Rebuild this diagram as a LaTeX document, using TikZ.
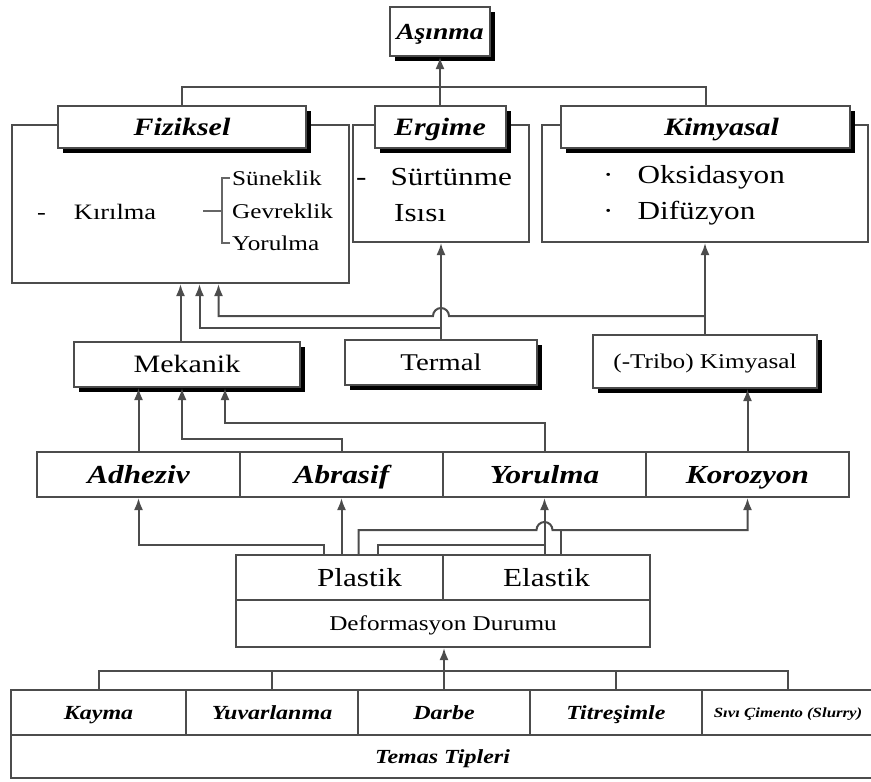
\documentclass[tikz,border=0pt]{standalone}
\usepackage{fontspec}
\setmainfont{Liberation Serif}[FakeStretch=1.2]
\usetikzlibrary{arrows.meta, shadows, calc}
\newcommand{\txtsize}[1]{\fontsize{#1}{#1}\selectfont}

\begin{document}
\begin{tikzpicture}[x=1pt, y=-1pt]

\tikzset{box/.style = {shape=rectangle, draw=black!70, line width=2pt, fill=white, inner sep=0pt}}
\tikzset{hdr/.style = {box, drop shadow={shadow xshift=5pt, shadow yshift=-5pt, fill=black, opacity=1}}}
\tikzset{line/.style = {draw=black!70, line width=2pt}}
\tikzset{edge/.style = {line, -{Latex[length=12pt,width=9pt]}}}
\tikzset{brk/.style = {draw=black!60, line width=1.2pt}}
\tikzset{txt/.style = {anchor=west, inner sep=0pt}}
\tikzset{lbl/.style = {font=\txtsize{#1}, text height=0.66*#1pt, text depth=0pt}}
\tikzset{bi/.style = {lbl=#1, font=\txtsize{#1}\bfseries\itshape}}

\useasboundingbox (0,0) rectangle (871,782);

%outer boxes
\node[box, minimum width=337pt, minimum height=158pt] (fizbox) at (180.5,204) {};
\node[box, minimum width=176pt, minimum height=117pt] (ergbox) at (441,183.5) {};
\node[box, minimum width=326pt, minimum height=117pt] (kimbox) at (705,183.5) {};

%headers
\node[hdr, bi=23, minimum width=100pt, minimum height=49pt] (asinma) at (440,31.5) {Aşınma};
\node[hdr, bi=25, minimum width=248pt, minimum height=42pt] (fizik) at (182,127) {Fiziksel};
\node[hdr, bi=25, minimum width=131pt, minimum height=42pt] (ergime) at (440,127) {Ergime};
\node[hdr, bi=25, minimum width=289pt, minimum height=42pt] (kimya) at (705.5,127) {\hspace{32pt}Kimyasal};

%contents
\node[txt, font=\txtsize{22}] (kirilma) at (37,212) {-\hspace{28pt}Kırılma};
\node[txt, font=\txtsize{21}] (sunek) at (232,178) {Süneklik};
\node[txt, font=\txtsize{21}] (gevrek) at (232,211) {Gevreklik};
\node[txt, font=\txtsize{21}] (yorul) at (232,243) {Yorulma};
\node[txt, font=\txtsize{26}] (surt) at (356,177) {-\hspace{24pt}Sürtünme};
\node[txt, font=\txtsize{26}] (isi) at (394,213) {Isısı};
\node[txt, font=\txtsize{26}] (oksi) at (603,177) {·\hspace{24pt}Oksidasyon};
\node[txt, font=\txtsize{26}] (difu) at (603,213) {·\hspace{24pt}Difüzyon};
\draw[brk] ([xshift=-2pt]sunek.west) -- ++(-8,0) |- ([xshift=-2pt]yorul.west);
\draw[brk] ([xshift=-10pt]gevrek.west) -- ++(-19,0);

%middle
\node[hdr, lbl=25, minimum width=226pt, minimum height=45pt] (mekanik) at (187,364.5) {Mekanik};
\node[hdr, lbl=24, minimum width=192pt, minimum height=45pt] (termal) at (441,362.5) {Termal};
\node[hdr, lbl=21, minimum width=224pt, minimum height=53pt] (tribo) at (705,361.5) {(-Tribo) Kimyasal};

%wear types
\node[box, bi=26, minimum width=203pt, minimum height=45pt] (adheziv) at (138.5,474.5) {Adheziv};
\node[box, bi=26, minimum width=203pt, minimum height=45pt] (abrasif) at (341.5,474.5) {Abrasif};
\node[box, bi=26, minimum width=203pt, minimum height=45pt] (yorulma) at (544.5,474.5) {Yorulma};
\node[box, bi=26, minimum width=203pt, minimum height=45pt] (korozyon) at (747.5,474.5) {Korozyon};

%deformation
\node[box, lbl=26, minimum width=207pt, minimum height=45pt] (plastik) at (339.5,577.5) {\hspace{40pt}Plastik};
\node[box, lbl=26, minimum width=207pt, minimum height=45pt] (elastik) at (546.5,577.5) {Elastik};
\node[box, lbl=21, minimum width=414pt, minimum height=47pt] (deform) at (443,623.5) {Deformasyon Durumu};

%contact types
\node[box, bi=20, minimum width=175pt, minimum height=45pt] (kayma) at (98.5,712.5) {Kayma};
\node[box, bi=20, minimum width=172pt, minimum height=45pt] (yuvar) at (272,712.5) {Yuvarlanma};
\node[box, bi=20, minimum width=172pt, minimum height=45pt] (darbe) at (444,712.5) {Darbe};
\node[box, bi=20, minimum width=172pt, minimum height=45pt] (titres) at (616,712.5) {Titreşimle};
\node[box, bi=14, minimum width=172pt, minimum height=45pt] (slurry) at (788,712.5) {Sıvı Çimento (Slurry)};
\node[box, bi=20, minimum width=863pt, minimum height=43pt] (temas) at (442.5,756.5) {Temas Tipleri};

%edges
\coordinate (top) at (440,87);
\draw[line] (fizik.north) |- (top) -| (kimya.north);
\draw[edge] (ergime.north) -- (asinma.south);

\coordinate (f1) at (fizbox.south);
\coordinate (f2) at ([xshift=19pt]fizbox.south);
\coordinate (f3) at ([xshift=38pt]fizbox.south);
\draw[edge] (mekanik.north -| f1) -- (f1);
\draw[edge] (termal.north) -- (ergbox.south);
\draw[edge] (termal.north) ++(0,-11) -| (f2);
\draw[edge] (tribo.north) -- (kimbox.south);
\draw[edge] (tribo.north) ++(0,-18) coordinate (h1) -- ($(termal.north |- h1)+(8,0)$) arc[start angle=0, end angle=180, radius=8pt] -| (f3);

\coordinate (m2) at ([xshift=-5pt]mekanik.south);
\coordinate (m3) at ([xshift=38pt]mekanik.south);
\draw[edge] (adheziv.north) -- (adheziv.north |- mekanik.south);
\draw[edge] (abrasif.north) -- ++(0,-12) -| (m2);
\draw[edge] (yorulma.north) -- ++(0,-28) -| (m3);
\draw[edge] (korozyon.north) -- (korozyon.north |- tribo.south);

\draw[edge] ([xshift=-16pt]plastik.north) -- ++(0,-9) -| (adheziv.south);
\draw[edge] (abrasif.south |- plastik.north) -- (abrasif.south);
\draw[edge] (yorulma.south |- elastik.north) -- (yorulma.south);
\draw[edge] ([xshift=19pt]plastik.north) -- ++(0,-24) coordinate (h2) -- ($(yorulma.south |- h2)+(-8,0)$) arc[start angle=180, end angle=0, radius=8pt] -| (korozyon.south);
\draw[line] ([xshift=38pt]plastik.north) -- ++(0,-9) coordinate (j1) -- (yorulma.south |- j1);
\draw[line] ([xshift=14pt]elastik.north) -- ++(0,-24);

\draw[line] (kayma.north) -- ++(0,-18) -| (slurry.north);
\foreach \n in {yuvar, titres} \draw[line] (\n.north) -- ++(0,-18);
\draw[edge] (darbe.north) -- (darbe.north |- deform.south);

\end{tikzpicture}
\end{document}
